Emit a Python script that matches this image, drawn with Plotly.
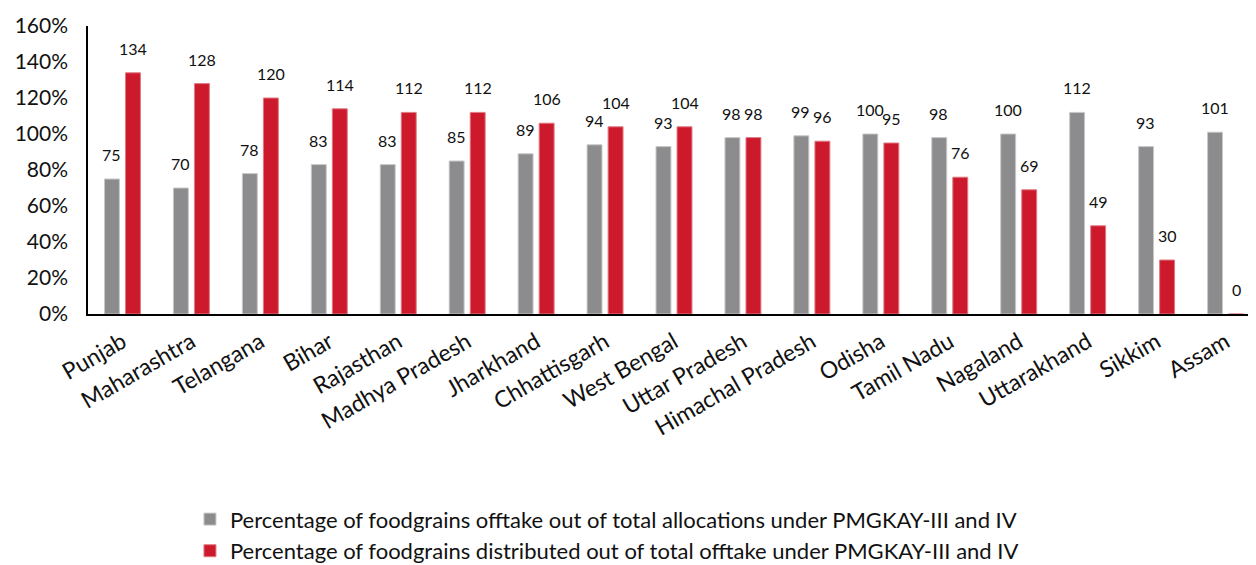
import plotly.graph_objects as go

# states and the two series (percent)
states = ["Punjab", "Maharashtra", "Telangana", "Bihar", "Rajasthan", "Madhya Pradesh",
          "Jharkhand", "Chhattisgarh", "West Bengal", "Uttar Pradesh", "Himachal Pradesh",
          "Odisha", "Tamil Nadu", "Nagaland", "Uttarakhand", "Sikkim", "Assam"]
offtake = [75, 70, 78, 83, 83, 85, 89, 94, 93, 98, 99, 100, 98, 100, 112, 93, 101]
distributed = [134, 128, 120, 114, 112, 112, 106, 104, 104, 98, 96, 95, 76, 69, 49, 30, 0]

name_offtake = "Percentage of foodgrains offtake out of total allocations under PMGKAY-III and IV"
name_distr = "Percentage of foodgrains distributed out of total offtake under PMGKAY-III and IV"

fig = go.Figure()
fig.add_trace(go.Bar(x=states, y=offtake, name=name_offtake,
                     marker=dict(color="#8c8c8e", line=dict(color="#c8c8c8", width=1))))
fig.add_trace(go.Bar(x=states, y=distributed, name=name_distr,
                     marker=dict(color="#cc1a2c", line=dict(color="#e07a84", width=1))))

# value labels sit a bit above the bars, like the original
for s, v in zip(states, offtake):
    fig.add_annotation(x=s, y=v, text=str(v), showarrow=False, xshift=-11, yshift=13,
                       yanchor="bottom", font=dict(size=16, color="#111"))
for s, v in zip(states, distributed):
    fig.add_annotation(x=s, y=v, text=str(v), showarrow=False, xshift=11, yshift=13,
                       yanchor="bottom", font=dict(size=16, color="#111"))

fig.update_layout(
    width=1256, height=565,
    margin=dict(l=80, r=4, t=18, b=259, autoexpand=False),
    plot_bgcolor="white", paper_bgcolor="white",
    font=dict(family="Lato", color="#111"),
    barmode="group", bargap=0.39, bargroupgap=0.29,
    showlegend=True,
    legend=dict(x=0.087, y=-0.64, xanchor="left", yanchor="top",
                font=dict(size=22), tracegroupgap=0),
)
fig.update_yaxes(range=[0, 160], dtick=20, ticksuffix="%", showgrid=False,
                 showline=True, linecolor="black", linewidth=1.5, automargin=False,
                 tickfont=dict(size=21), ticks="", zeroline=False, ticklabelstandoff=14)
fig.update_xaxes(showline=True, linecolor="black", linewidth=1.5, tickangle=-30,
                 automargin=False, tickfont=dict(size=23), ticks="", ticklabelstandoff=4)

fig.write_html("out.html")
